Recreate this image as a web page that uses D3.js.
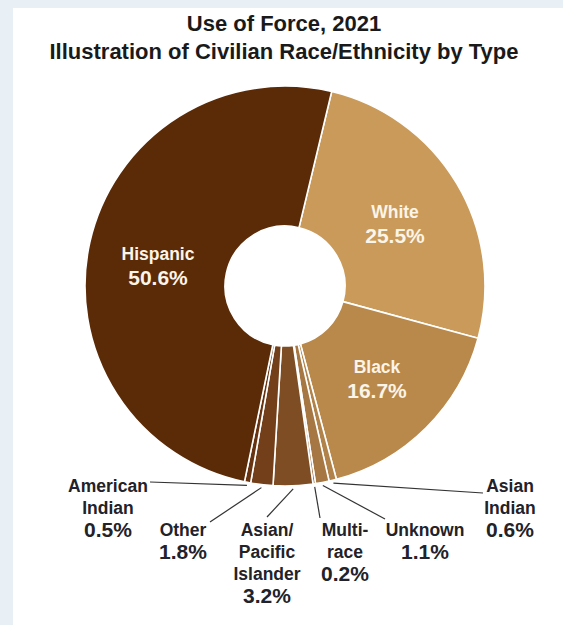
<!DOCTYPE html>
<html>
<head>
<meta charset="utf-8">
<script src="https://cdn.jsdelivr.net/npm/d3@7"></script>
<style>
    body { margin: 0; background: #e8f0f5; }
    svg { display: block; font-family: 'Liberation Sans', Arial, sans-serif; }
</style>
</head>
<body>
<svg width="563" height="625"></svg>
<script>
// Data
const categories = ['White', 'Black', 'Asian Indian', 'Unknown', 'Multi-race',
    'Asian/Pacific Islander', 'Other', 'American Indian', 'Hispanic'];
const values = [25.5, 16.7, 0.6, 1.1, 0.2, 3.2, 1.8, 0.5, 50.6];
const valueLabels = ['25.5%', '16.7%', '0.6%', '1.1%', '0.2%', '3.2%', '1.8%', '0.5%', '50.6%'];
const nameLines = [['White'], ['Black'], ['Asian', 'Indian'], ['Unknown'], ['Multi-', 'race'],
    ['Asian/', 'Pacific', 'Islander'], ['Other'], ['American', 'Indian'], ['Hispanic']];
const sliceColors = ['#c99a59', '#b9894b', '#b1824a', '#a67743', '#98673a',
    '#7f4d23', '#733f1a', '#683311', '#5b2a07'];
const titleLines = ['Use of Force, 2021', 'Illustration of Civilian Race/Ethnicity by Type'];

// Layout
const cx = 285, cy = 286;
const outerR = 200, innerR = 60;
const startDeg = 13.5;
// inside labels: [x, baseline of name]
const insideLabels = { 'White': [395, 218], 'Black': [377, 373], 'Hispanic': [158, 260] };
// outside labels: [x, baseline of first line, leader x, leader y]
const outsideLabels = {
    'American Indian': [108, 492, 150, 482],
    'Other': [183, 536, 210, 522],
    'Asian/Pacific Islander': [267, 536, 267, 517],
    'Multi-race': [345, 536, 320, 518],
    'Unknown': [425, 536, 385, 519],
    'Asian Indian': [510, 492, 483, 493]
};

const svg = d3.select('svg');

// White panel
svg.append('rect')
    .attr('x', 13).attr('y', 8)
    .attr('width', 550).attr('height', 617)
    .attr('fill', '#ffffff');

// Title
svg.append('g')
    .selectAll('text')
    .data(titleLines)
    .join('text')
    .attr('x', 284)
    .attr('y', (d, i) => 31 + i * 28)
    .attr('text-anchor', 'middle')
    .attr('font-size', 22)
    .attr('font-weight', 'bold')
    .attr('fill', '#1a1a1a')
    .text((d) => d);

const data = categories.map((c, i) => ({
    name: c, value: values[i], label: valueLabels[i], lines: nameLines[i], color: sliceColors[i]
}));

const pie = d3.pie()
    .value((d) => d.value)
    .sort(null)
    .startAngle(startDeg * Math.PI / 180)
    .endAngle(startDeg * Math.PI / 180 + 2 * Math.PI);

const arc = d3.arc().innerRadius(innerR).outerRadius(outerR);
const leaderArc = d3.arc().innerRadius(outerR + 3).outerRadius(outerR + 3);

const arcs = pie(data);

const chart = svg.append('g').attr('transform', `translate(${cx},${cy})`);

// Slices
chart.selectAll('path.slice')
    .data(arcs)
    .join('path')
    .attr('class', 'slice')
    .attr('d', arc)
    .attr('fill', (d) => d.data.color)
    .attr('stroke', '#ffffff')
    .attr('stroke-width', 1.6)
    .attr('stroke-linejoin', 'round');

// Inside labels
const inside = arcs.filter((d) => insideLabels[d.data.name]);
const inG = svg.append('g')
    .selectAll('g')
    .data(inside)
    .join('g')
    .attr('fill', '#fbf4e8')
    .attr('font-weight', 'bold')
    .attr('text-anchor', 'middle');
inG.append('text')
    .attr('x', (d) => insideLabels[d.data.name][0])
    .attr('y', (d) => insideLabels[d.data.name][1])
    .attr('font-size', 17.5)
    .text((d) => d.data.lines[0]);
inG.append('text')
    .attr('x', (d) => insideLabels[d.data.name][0])
    .attr('y', (d) => insideLabels[d.data.name][1] + 25)
    .attr('font-size', 21)
    .text((d) => d.data.label);

// Outside labels with leader lines
const outside = arcs.filter((d) => outsideLabels[d.data.name]);
svg.append('g')
    .selectAll('line')
    .data(outside)
    .join('line')
    .attr('x1', (d) => outsideLabels[d.data.name][2])
    .attr('y1', (d) => outsideLabels[d.data.name][3])
    .attr('x2', (d) => cx + leaderArc.centroid(d)[0])
    .attr('y2', (d) => cy + leaderArc.centroid(d)[1])
    .attr('stroke', '#333333')
    .attr('stroke-width', 1.2);

const outG = svg.append('g')
    .selectAll('text')
    .data(outside)
    .join('text')
    .attr('text-anchor', 'middle')
    .attr('font-weight', 'bold')
    .attr('fill', '#222228');
outG.each(function (d) {
    const [x, y] = outsideLabels[d.data.name];
    const t = d3.select(this);
    d.data.lines.forEach((line, i) => {
        t.append('tspan')
            .attr('x', x)
            .attr('y', y + i * 22)
            .attr('font-size', 17.5)
            .text(line);
    });
    t.append('tspan')
        .attr('x', x)
        .attr('y', y + d.data.lines.length * 22 + 1)
        .attr('font-size', 21)
        .text(d.data.label);
});
</script>
</body>
</html>
